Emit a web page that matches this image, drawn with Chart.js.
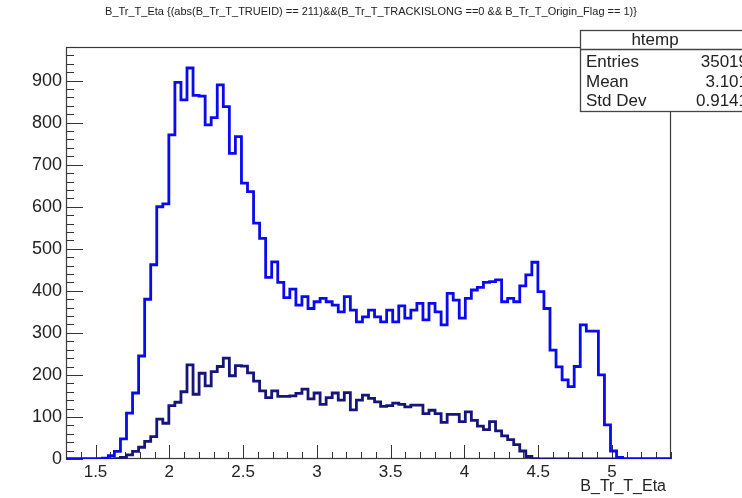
<!DOCTYPE html>
<html>
<head>
<meta charset="utf-8">
<script src="https://cdn.jsdelivr.net/npm/chart.js@4.4.1/dist/chart.umd.min.js"></script>
<style>
  html, body { margin: 0; padding: 0; background: #ffffff; }
  #wrap { width: 742px; height: 498px; position: relative; }
</style>
</head>
<body>
<div id="wrap"><canvas id="c" width="742" height="498"></canvas></div>
<script>
// ---- data ----
const histTitle = "B_Tr_T_Eta {(abs(B_Tr_T_TRUEID) == 211)&&(B_Tr_T_TRACKISLONG ==0 && B_Tr_T_Origin_Flag == 1)}";
const xAxisTitle = "B_Tr_T_Eta";
const xMin = 1.3;
const xMax = 5.4;
const nBins = 100;

// upper (bright blue) histogram, 100 bins
const allCounts = [
  0, 0, 0, 0, 0, 0, 2, 8, 18, 48,
  109, 157, 245, 380, 462, 600, 607, 771, 896, 854,
  930, 865, 863, 795, 812, 890, 838, 727, 767, 656,
  636, 561, 525, 432, 469, 420, 384, 404, 366, 386,
  358, 374, 382, 374, 366, 350, 386, 354, 326, 338,
  354, 338, 326, 354, 326, 364, 335, 354, 370, 331,
  370, 350, 319, 394, 378, 335, 382, 402, 408, 420,
  422, 426, 374, 382, 374, 412, 438, 468, 398, 358,
  259, 219, 188, 172, 220, 319, 304, 304, 200, 81,
  19, 4, 0, 0, 0, 0, 0, 0, 0, 0
];

// lower (dark navy) histogram, 100 bins
const selCounts = [
  0, 0, 0, 0, 0, 0, 0, 0, 1, 4,
  10, 18, 28, 42, 53, 95, 85, 127, 135, 160,
  224, 154, 204, 174, 208, 220, 240, 198, 222, 221,
  205, 185, 162, 146, 162, 149, 149, 150, 156, 166,
  143, 157, 130, 146, 157, 140, 158, 117, 140, 152,
  144, 136, 125, 127, 133, 130, 124, 128, 128, 108,
  116, 108, 87, 106, 106, 89, 112, 92, 78, 70,
  89, 67, 55, 46, 34, 19, 6, 1, 0, 0,
  0, 0, 0, 0, 0, 0, 0, 0, 0, 0,
  0, 0, 0, 0, 0, 0, 0, 0, 0, 0
];

const xTickValues = [1.5, 2, 2.5, 3, 3.5, 4, 4.5, 5];
const xTickLabels = ["1.5", "2", "2.5", "3", "3.5", "4", "4.5", "5"];
const yTickValues = [0, 100, 200, 300, 400, 500, 600, 700, 800, 900];
const yTickLabels = ["0", "100", "200", "300", "400", "500", "600", "700", "800", "900"];
const yMax = 980;

const statsName = "htemp";
const statsLabels = ["Entries", "Mean", "Std Dev"];
const statsValues = ["35019", "3.101", "0.9141"];

// ---- build step points (bin left edges + closing edge) ----
const binWidth = (xMax - xMin) / nBins;
function stepPoints(counts) {
  const pts = counts.map((v, i) => ({ x: xMin + i * binWidth, y: v }));
  pts.push({ x: xMax, y: counts[counts.length - 1] });
  return pts;
}

const FONT = "'Liberation Sans', Arial, Helvetica, sans-serif";
const TEXT = '#222222';

const rootDecor = {
  id: 'rootDecor',
  beforeDatasetsDraw(chart) {
    const ctx = chart.ctx;
    const a = chart.chartArea;
    const xs = chart.scales.x, ys = chart.scales.y;
    ctx.save();
    // frame
    ctx.strokeStyle = '#3a3a3a';
    ctx.lineWidth = 1.2;
    ctx.strokeRect(a.left + 0.5, a.top + 0.5, a.right - a.left - 1, a.bottom - a.top - 1);
    // x ticks (inward, from the bottom)
    ctx.strokeStyle = '#333';
    ctx.lineWidth = 1;
    ctx.beginPath();
    for (let k = 13; k <= 54; k++) {
      const v = k / 10;
      const px = Math.round(xs.getPixelForValue(v)) + 0.5;
      const major = (k % 5 === 0);
      ctx.moveTo(px, a.bottom);
      ctx.lineTo(px, a.bottom - (major ? 14 : 7));
    }
    // y ticks (inward, from the left)
    for (let v = 0; v <= yMax; v += 20) {
      const py = Math.round(ys.getPixelForValue(v)) + 0.5;
      const major = (v % 100 === 0);
      ctx.moveTo(a.left, py);
      ctx.lineTo(a.left + (major ? 17 : 8), py);
    }
    ctx.stroke();
    ctx.restore();
  },
  afterDraw(chart) {
    const ctx = chart.ctx;
    const a = chart.chartArea;
    ctx.save();
    // title
    ctx.fillStyle = TEXT;
    ctx.font = '11px ' + FONT;
    ctx.textAlign = 'center';
    ctx.textBaseline = 'middle';
    ctx.fillText(histTitle, 371, 12, 537);
    // x axis title
    ctx.font = '16px ' + FONT;
    ctx.textAlign = 'right';
    ctx.textBaseline = 'middle';
    ctx.fillText(xAxisTitle, a.right - 5, 487);
    // stats box
    const bx = 580, by = 30, bw = 180, bh = 81, hy = 49.5;
    ctx.fillStyle = '#ffffff';
    ctx.fillRect(bx, by, bw, bh);
    ctx.strokeStyle = '#444';
    ctx.lineWidth = 1.3;
    ctx.strokeRect(bx + 0.5, by + 0.5, bw, bh);
    ctx.beginPath();
    ctx.moveTo(bx, hy);
    ctx.lineTo(bx + bw, hy);
    ctx.stroke();
    ctx.fillStyle = TEXT;
    ctx.font = '17px ' + FONT;
    ctx.textAlign = 'center';
    ctx.fillText(statsName, 655, 40);
    const rows = [62.5, 82.5, 101.5];
    for (let i = 0; i < statsLabels.length; i++) {
      ctx.textAlign = 'left';
      ctx.fillText(statsLabels[i], 586, rows[i]);
      ctx.textAlign = 'right';
      ctx.fillText(statsValues[i], 748, rows[i]);
    }
    ctx.restore();
  }
};

new Chart(document.getElementById('c'), {
  type: 'line',
  data: {
    datasets: [
      {
        label: 'all',
        data: stepPoints(allCounts),
        stepped: 'before',
        borderColor: '#0a0aee',
        borderWidth: 2.8,
        pointRadius: 0,
        fill: false,
        borderJoinStyle: 'miter'
      },
      {
        label: 'selected',
        data: stepPoints(selCounts),
        stepped: 'before',
        borderColor: '#15157a',
        borderWidth: 2.8,
        pointRadius: 0,
        fill: false,
        borderJoinStyle: 'miter'
      }
    ]
  },
  options: {
    responsive: false,
    animation: false,
    devicePixelRatio: 1,
    layout: { padding: { left: 0, right: 71, top: 47, bottom: 0 } },
    plugins: {
      legend: { display: false },
      title: { display: false },
      tooltip: { enabled: false }
    },
    scales: {
      x: {
        type: 'linear',
        min: xMin,
        max: xMax,
        border: { display: false },
        grid: { display: false, drawTicks: false },
        afterBuildTicks: (s) => { s.ticks = xTickValues.map(v => ({ value: v })); },
        afterFit: (s) => { s.height = 39; },
        ticks: {
          padding: 3,
          color: TEXT,
          font: { family: FONT, size: 17 },
          maxRotation: 0,
          autoSkip: false,
          callback: (v) => { const i = xTickValues.indexOf(v); return i >= 0 ? xTickLabels[i] : ''; }
        }
      },
      y: {
        type: 'linear',
        min: 0,
        max: yMax,
        border: { display: false },
        grid: { display: false, drawTicks: false },
        afterBuildTicks: (s) => { s.ticks = yTickValues.map(v => ({ value: v })); },
        afterFit: (s) => { s.width = 66; },
        ticks: {
          padding: 4,
          color: TEXT,
          font: { family: FONT, size: 18 },
          autoSkip: false,
          callback: (v) => { const i = yTickValues.indexOf(v); return i >= 0 ? yTickLabels[i] : ''; }
        }
      }
    }
  },
  plugins: [rootDecor]
});
</script>
</body>
</html>
